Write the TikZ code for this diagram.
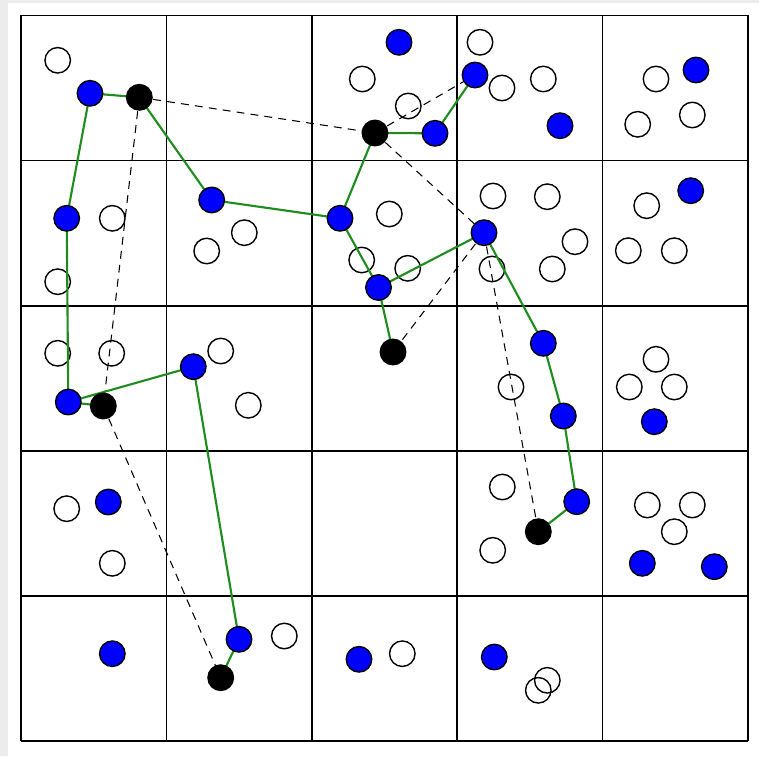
\documentclass[tikz,border=0pt]{standalone}
\begin{document}
\begin{tikzpicture}[x=0.02cm,y=-0.02cm,
  hol/.style={circle,draw=black,line width=0.8pt,minimum size=25.5*0.02cm,inner sep=0pt},
  blu/.style={circle,draw=black,fill=blue,line width=0.8pt,minimum size=25.5*0.02cm,inner sep=0pt},
  blk/.style={circle,draw=black,fill=black,line width=0.8pt,minimum size=25.5*0.02cm,inner sep=0pt},
  grn/.style={draw={rgb,255:red,30;green,140;blue,30},line width=1.2pt},
  dsh/.style={draw=black,line width=0.6pt,dash pattern=on 4.5pt off 3.5pt},
  gridl/.style={draw=black,line width=1pt}]
\definecolor{bggray}{RGB}{236,236,236}
\fill[bggray] (0,0) rectangle (759,756);
\fill[white] (8,3) rectangle (759,756);
\useasboundingbox (0,0) rectangle (759,756);
% grid
\foreach \x in {21,166.4,311.8,457.2,602.6,748} \draw[gridl] (\x,15.5) -- (\x,741);
\foreach \y in {15.5,160.6,305.7,450.8,595.9,741} \draw[gridl] (21,\y) -- (748,\y);
% hollow circles
\foreach \p [count=\i] in {(57.7,60.3),(112.3,218.3),(57.7,281.7),(244.3,232.7),(206.7,251),(362.3,79),(361.7,260),(57.7,353.3),(111.7,353.3),(220.7,351),(480,42.3),(502,88),(543.3,79),(408.3,106),(656,79),(637.7,124.3),(692.3,115),(389.3,214),(493,196),(547.3,196.7),(575,241.7),(552.3,269),(492,269),(407.7,268.3),(646.7,205.7),(628.3,250.7),(674.3,250.7),(656,359.3),(511,387),(629.3,387),(674.3,387),(248.3,405.3),(66.7,508.7),(112.3,563.3),(284.3,636),(502.3,487),(492.7,550.3),(647.3,505),(692.3,505),(674.3,531.7),(402.3,653.7),(547.3,680.3),(538.3,690.3)}
  \path \p node[hol] (h\i) {};
% coordinates of filled nodes
\foreach \p [count=\i] in {(90,93.3),(66.7,218.3),(211.7,200),(340,218.3),(378.5,287.5),(399,42.3),(475,75),(560,125.7),(435,133.3),(696,70),(484,232.7),(690.7,190.7),(543.3,343.3),(68.3,402),(193.3,366.7),(563.3,416),(654.3,421.7),(108.3,502),(576.7,501.7),(642.3,563.3),(714.3,566.7),(112.3,653.7),(239,639.3),(359,659.3),(494.3,657)}
  \path \p coordinate (b\i);
\foreach \p [count=\i] in {(139.3,97.3),(375,133),(103.3,406),(393,352),(538.3,531.7),(220.7,677.7)}
  \path \p coordinate (k\i);
% dashed connectors
\draw[dsh] (k1) -- (k2);
\draw[dsh] (k1) -- (k3);
\draw[dsh] (k3) -- (k6);
\draw[dsh] (k2) -- (b7);
\draw[dsh] (k2) -- (b11);
\draw[dsh] (b11) -- (k4);
\draw[dsh] (b11) -- (k5);
% green connectors
\draw[grn] (b2) -- (b1) -- (k1) -- (b3) -- (b4) -- (k2) -- (b9) -- (b7);
\draw[grn] (b2) -- (b14) -- (k3);
\draw[grn] (b14) -- (b15) -- (b23) -- (k6);
\draw[grn] (b4) -- (b5) -- (k4);
\draw[grn] (b5) -- (b11) -- (b13) -- (b16) -- (b19) -- (k5);
% filled nodes
\foreach \i in {1,...,25} \node[blu] (B\i) at (b\i) {};
\foreach \i in {1,...,6} \node[blk] (K\i) at (k\i) {};
\end{tikzpicture}
\end{document}
